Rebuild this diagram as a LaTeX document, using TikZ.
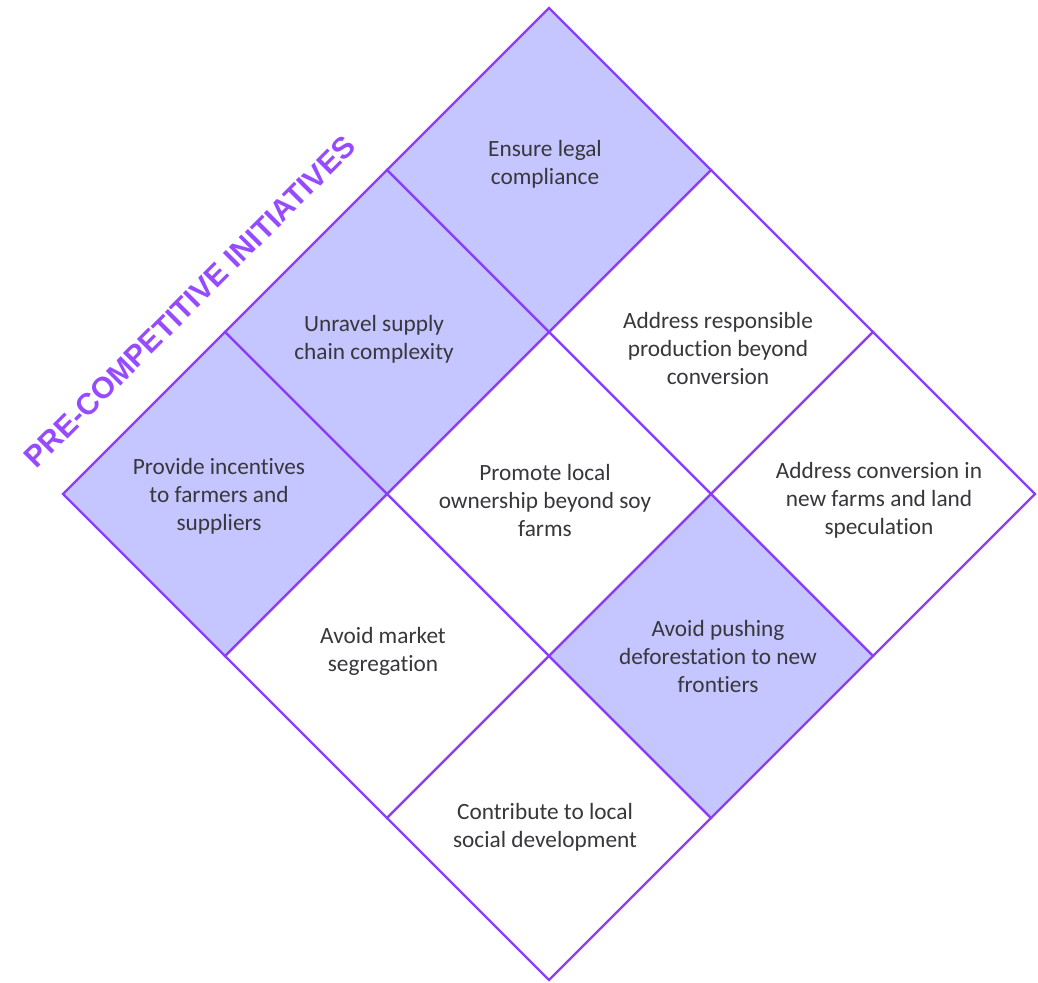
\documentclass[tikz,border=0pt]{standalone}
\usepackage{fontspec}
\usetikzlibrary{calc}
\setmainfont[Ligatures={NoCommon}]{Carlito}
\newfontfamily\titlefont{Liberation Sans}
\definecolor{cellpurple}{RGB}{140,62,245}
\definecolor{cellfill}{RGB}{197,197,255}
\definecolor{titlepurple}{RGB}{150,75,255}
\definecolor{txt}{RGB}{55,55,60}
\begin{document}
\begin{tikzpicture}[x=1pt,y=-1pt,
  cellbox/.style={draw=cellpurple,line width=2.4pt,line join=miter},
  filledcell/.style={cellbox,fill=cellfill},
  whitecell/.style={cellbox,fill=white},
  celltext/.style={font=\fontsize{23.3}{28}\selectfont,text=txt,align=center,inner sep=0pt}]
\useasboundingbox[fill=white] (0,0) rectangle (1038,982);
\def\h{162}
% cell centres
\coordinate (cEnsure) at (549,170);
\coordinate (cUnravel) at (387,332);
\coordinate (cProvide) at (225,494);
\coordinate (cAddrResp) at (711,332);
\coordinate (cPromote) at (549,494);
\coordinate (cMarket) at (387,656);
\coordinate (cAddrConv) at (873,494);
\coordinate (cPushing) at (711,656);
\coordinate (cContrib) at (549,818);
% white cells
\foreach \c in {cAddrResp,cPromote,cMarket,cAddrConv,cContrib}{
  \draw[whitecell] ($(\c)+(0,-\h)$) -- ($(\c)+(\h,0)$) -- ($(\c)+(0,\h)$) -- ($(\c)+(-\h,0)$) -- cycle;
}
% filled cells
\foreach \c in {cEnsure,cUnravel,cProvide,cPushing}{
  \draw[filledcell] ($(\c)+(0,-\h)$) -- ($(\c)+(\h,0)$) -- ($(\c)+(0,\h)$) -- ($(\c)+(-\h,0)$) -- cycle;
}
% texts
\node[celltext] (tEnsure) at (545,164) {Ensure legal\\compliance};
\node[celltext] (tUnravel) at (374,339) {Unravel supply\\chain complexity};
\node[celltext] (tProvide) at (219,496) {Provide incentives\\to farmers and\\suppliers};
\node[celltext] (tAddrResp) at (718,348) {Address responsible\\production beyond\\conversion};
\node[celltext] (tPromote) at (545,500) {Promote local\\ownership beyond soy\\farms};
\node[celltext] (tMarket) at (383,651) {Avoid market\\segregation};
\node[celltext] (tAddrConv) at (879,500) {Address conversion in\\new farms and land\\speculation};
\node[celltext] (tPushing) at (718,656) {Avoid pushing\\deforestation to new\\frontiers};
\node[celltext] (tContrib) at (545,827) {Contribute to local\\social development};
% title
\node[rotate=45,text=titlepurple,font=\titlefont\bfseries\fontsize{30}{34}\selectfont,inner sep=0pt] (title) at (190,302) {PRE-COMPETITIVE INITIATIVES};
\end{tikzpicture}
\end{document}
